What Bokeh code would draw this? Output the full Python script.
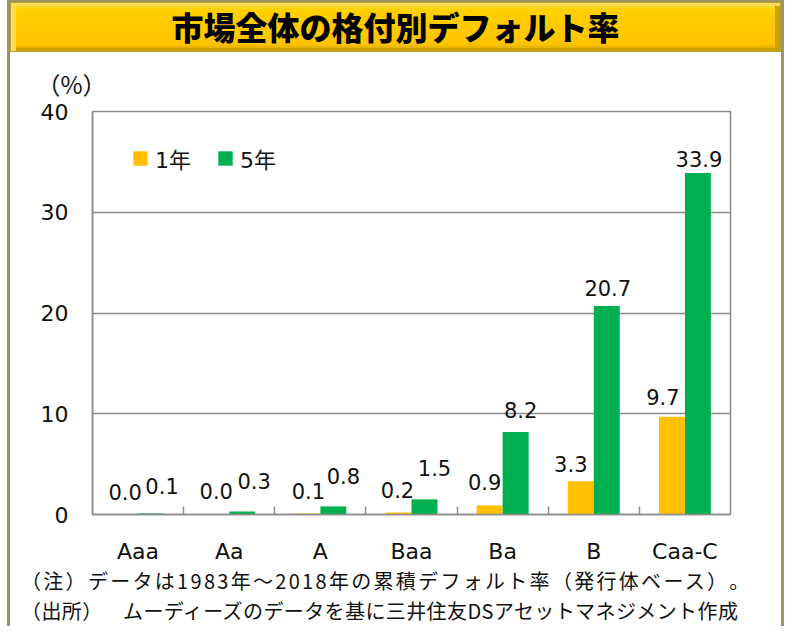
from bokeh.plotting import figure
from bokeh.models import (ColumnDataSource, FixedTicker, Legend, LegendItem, Range1d,
                          Title, Div)
from bokeh.layouts import column, row
from bokeh.transform import dodge
from bokeh.core.properties import value
from bokeh.embed import file_html
from bokeh.resources import INLINE

# ---------------- data ----------------
categories = ["Aaa", "Aa", "A", "Baa", "Ba", "B", "Caa-C"]
rate_1y = [0.0, 0.02, 0.1, 0.2, 0.9, 3.3, 9.7]
rate_5y = [0.1, 0.3, 0.8, 1.5, 8.2, 20.7, 33.9]
y_ticks = [0, 10, 20, 30, 40]
series_names = ["1年", "5年"]
title_text = "市場全体の格付別デフォルト率"
unit_text = "（%）"
note_lines = ["（注）データは1983年～2018年の累積デフォルト率（発行体ベース）。",
              "（出所）　ムーディーズのデータを基に三井住友DSアセットマネジメント作成"]

# ---------------- styling / layout ----------------
INNER_W = 771
TITLE_H = 50
FIG_H = 514
NOTES_H = 60
FL, FR, FT = 82, 720, 56                 # frame edges inside the figure
FB = FT + 407
C1, C5 = "#FFC000", "#00B050"
GRAY = "#8C8C8C"
OLIVE = "#9E9462"
TXT = "#111111"
NUM_FONT = "DejaVu Sans"
JP_FONT = "Noto Sans CJK JP"
MIX_FONT = "DejaVu Sans, Noto Sans CJK JP"
BAR_W = 0.285
# label nudges (pixels) to mimic the reference placement
lab1_dx = [0, 0, 1, -1, -5, -10, -9]
lab1_gap = [23, 23, 22, 22, 23, 17, 20]
lab5_dx = [11, 12, 10, 10, 5, 1, 1]
lab5_gap = [27, 30, 30, 31, 22, 18, 14]

pos = list(range(len(categories)))
src = ColumnDataSource(dict(
    pos=pos, r1=rate_1y, r5=rate_5y,
    t1=[f"{v:.1f}" for v in rate_1y], t5=[f"{v:.1f}" for v in rate_5y],
    dx1=lab1_dx, dy1=[-g for g in lab1_gap],
    dx5=lab5_dx, dy5=[-g for g in lab5_gap],
))

p = figure(width=INNER_W, height=FIG_H, output_backend="svg", toolbar_location=None,
           x_range=Range1d(-0.5, len(categories) - 0.5), y_range=Range1d(0, 40),
           min_border_left=FL, min_border_right=INNER_W - FR,
           min_border_top=FT, min_border_bottom=FIG_H - FB, margin=0)
p.background_fill_color = "white"
p.border_fill_color = "white"
p.outline_line_color = GRAY
p.outline_line_width = 1.5

# unit label above the value axis
p.add_layout(Title(text=unit_text, align="left", offset=-56, standoff=22,
                   text_font=JP_FONT, text_font_size="24px", text_font_style="normal",
                   text_color=TXT), "above")

# bars
b1 = p.vbar(x=dodge("pos", -BAR_W / 2, range=p.x_range), top="r1", width=BAR_W,
            source=src, fill_color=C1, line_color=None)
b5 = p.vbar(x=dodge("pos", BAR_W / 2, range=p.x_range), top="r5", width=BAR_W,
            source=src, fill_color=C5, line_color=None)

# value labels
for col, tcol, dxc, dyc, off in (("r1", "t1", "dx1", "dy1", -BAR_W / 2),
                                 ("r5", "t5", "dx5", "dy5", BAR_W / 2)):
    p.text(x=dodge("pos", off, range=p.x_range), y=col, text=tcol, source=src,
           x_offset=dxc, y_offset=dyc, text_align="center", text_baseline="alphabetic",
           text_font=value(NUM_FONT), text_font_size="21px", text_color=TXT)

# axes
yax = p.yaxis[0]
yax.ticker = FixedTicker(ticks=y_ticks)
yax.axis_line_color = GRAY
yax.axis_line_width = 1.5
yax.major_tick_in = 0
yax.major_tick_out = 0
yax.minor_tick_line_color = None
yax.major_label_standoff = 24
yax.major_label_text_font = NUM_FONT
yax.major_label_text_font_size = "22px"
yax.major_label_text_color = TXT

xax = p.xaxis[0]
xax.ticker = FixedTicker(ticks=pos, minor_ticks=[i + 0.5 for i in pos[:-1]])
xax.major_label_overrides = {i: c for i, c in zip(pos, categories)}
xax.axis_line_color = GRAY
xax.axis_line_width = 1.5
xax.major_tick_in = 0
xax.major_tick_out = 0
xax.minor_tick_in = 8
xax.minor_tick_out = 0
xax.minor_tick_line_color = GRAY
xax.minor_tick_line_width = 1.5
xax.major_label_standoff = 24
xax.major_label_text_font = NUM_FONT
xax.major_label_text_font_size = "22px"
xax.major_label_text_color = TXT

p.xgrid.visible = False
p.ygrid.grid_line_color = GRAY
p.ygrid.grid_line_width = 1.5

# legend
legend = Legend(items=[LegendItem(label=series_names[0], renderers=[b1]),
                       LegendItem(label=series_names[1], renderers=[b5])],
                orientation="horizontal", location=(39, (FB - FT) - 67),
                glyph_width=18, glyph_height=18, label_standoff=6, spacing=25,
                padding=0, margin=0, border_line_color=None, background_fill_alpha=0,
                label_text_font=MIX_FONT, label_text_font_size="22px",
                label_text_color=TXT)
p.add_layout(legend, "center")

# title bar
title_html = (
    f'<div style="width:{INNER_W}px;height:{TITLE_H}px;box-sizing:border-box;'
    'background:linear-gradient(to bottom,#FFE15C 0%,#FFD000 14%,#FFC900 55%,#FFC400 86%,#C9A000 100%);'
    'box-shadow:inset 5px 3px 0 #FFDD55, inset -5px -3px 0 #C9A200;'
    'border:1px solid #B8A040;display:flex;align-items:center;justify-content:center;'
    f"font-family:'{JP_FONT}';font-weight:900;font-size:32px;color:#000;\">"
    f'{title_text}</div>'
)
title_div = Div(text=title_html, width=INNER_W, height=TITLE_H, margin=0)

note_spacing = ["2.3px", "0.4px"]
notes_html = (
    f'<div style="width:{INNER_W}px;height:{NOTES_H}px;box-sizing:border-box;padding-left:11px;'
    f"font-family:'{JP_FONT}';font-size:20px;line-height:30px;color:{TXT};white-space:nowrap;"
    'text-spacing-trim:space-all;">'
    + "".join(f'<div style="letter-spacing:{ls};">{t}</div>'
              for t, ls in zip(note_lines, note_spacing))
    + '</div>'
)
notes_div = Div(text=notes_html, width=INNER_W, height=NOTES_H, margin=0)

top_border = Div(text="", width=INNER_W, height=2, margin=0, styles={"background-color": OLIVE})
TOTAL_H = 2 + TITLE_H + FIG_H + NOTES_H
left_border = Div(text="", width=3, height=TOTAL_H, margin=0, styles={"background-color": OLIVE})
right_border = Div(text="", width=3, height=TOTAL_H, margin=0, styles={"background-color": OLIVE})

inner = column(top_border, title_div, p, notes_div, spacing=0, margin=0)
page = row(left_border, inner, right_border, spacing=0, margin=(0, 0, 0, 7))

open("out.html", "w").write(file_html(page, INLINE))
